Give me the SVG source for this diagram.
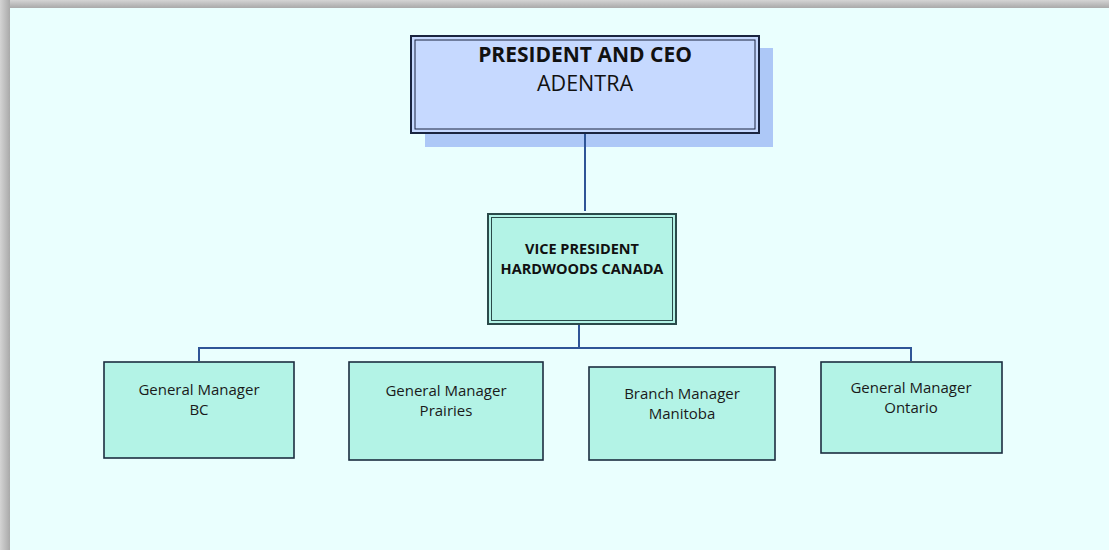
<svg xmlns="http://www.w3.org/2000/svg" width="1109" height="550" viewBox="0 0 1109 550">
  <defs>
    <linearGradient id="gTop" x1="0" y1="0" x2="0" y2="1">
      <stop offset="0" stop-color="#d4d4d4"/>
      <stop offset="1" stop-color="#a9a9a9"/>
    </linearGradient>
    <linearGradient id="gLeft" x1="0" y1="0" x2="1" y2="0">
      <stop offset="0" stop-color="#d4d4d4"/>
      <stop offset="1" stop-color="#a9a9a9"/>
    </linearGradient>
  </defs>
  <style>
    .conn { fill: none; stroke: #2f5597; stroke-width: 2; }
    .box { fill: #b3f3e6; stroke: #1c2d40; stroke-width: 1.6; }
    .t { font-family: "Open Sans", "Noto Sans", sans-serif; font-size: 15px; fill: #1a1a1a; text-anchor: middle; }
    .tb { font-family: "Open Sans", "Noto Sans", sans-serif; font-weight: bold; text-anchor: middle; fill: #111; }
  </style>
  <rect x="0" y="0" width="1109" height="550" fill="#ffffff"/>
  <rect x="0" y="0" width="1109" height="8" fill="url(#gTop)"/>
  <rect x="0" y="0" width="10" height="550" fill="url(#gLeft)"/>
  <rect x="10" y="8" width="1099" height="542" fill="#eafffe"/>

  <g id="ceo">
    <rect x="425" y="48" width="348" height="99" fill="#adc8f7"/>
    <rect x="411" y="36" width="348" height="97" fill="#c6d9ff" stroke="#1a2540" stroke-width="2"/>
    <rect x="415" y="40" width="340" height="89" fill="none" stroke="#1a2540" stroke-width="1"/>
    <text class="tb" x="585" y="62" font-size="21">PRESIDENT AND CEO</text>
    <text x="585" y="91" font-family="Open Sans, Noto Sans, sans-serif" font-size="21.5" text-anchor="middle" fill="#111">ADENTRA</text>
  </g>

  <g id="vp">
    <rect x="488" y="214" width="188" height="110" fill="#b3f3e6" stroke="#2a4a4a" stroke-width="2"/>
    <rect x="491.5" y="217.5" width="181" height="103" fill="none" stroke="#2a4a4a" stroke-width="1"/>
    <text class="tb" x="582" y="254" font-size="14.5">VICE PRESIDENT</text>
    <text class="tb" x="582" y="274" font-size="14.5">HARDWOODS CANADA</text>
  </g>

  <g id="gm-bc">
    <rect class="box" x="104" y="362" width="190" height="96"/>
    <text class="t" x="199" y="395">General Manager</text>
    <text class="t" x="199" y="415">BC</text>
  </g>

  <g id="gm-prairies">
    <rect class="box" x="349" y="362" width="194" height="98"/>
    <text class="t" x="446" y="396">General Manager</text>
    <text class="t" x="446" y="416">Prairies</text>
  </g>

  <g id="bm-manitoba">
    <rect class="box" x="589" y="367" width="186" height="93"/>
    <text class="t" x="682" y="399">Branch Manager</text>
    <text class="t" x="682" y="419">Manitoba</text>
  </g>

  <g id="gm-ontario">
    <rect class="box" x="821" y="362" width="181" height="91"/>
    <text class="t" x="911" y="393">General Manager</text>
    <text class="t" x="911" y="413">Ontario</text>
  </g>

  <g id="connectors">
    <line class="conn" x1="585" y1="134" x2="585" y2="211"/>
    <polyline class="conn" points="199,361 199,348 911,348 911,361"/>
    <line class="conn" x1="579" y1="325" x2="579" y2="348"/>
  </g>
</svg>
